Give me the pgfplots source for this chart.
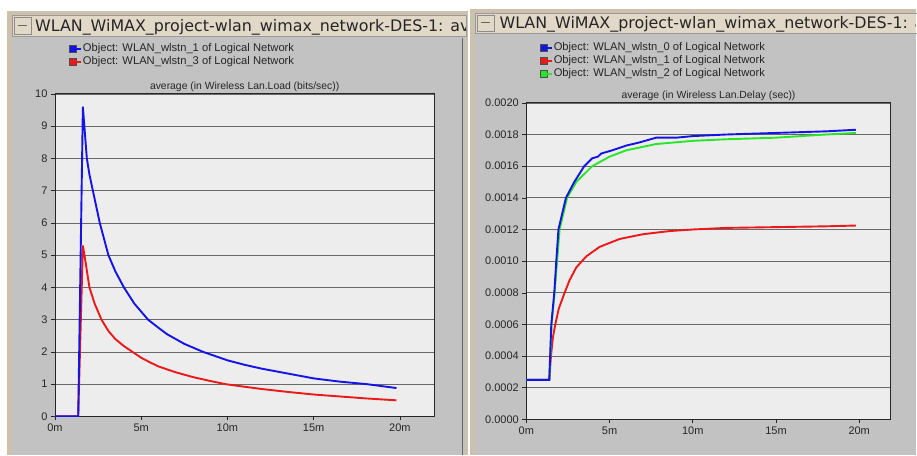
\documentclass[border=0pt]{standalone}
\usepackage{fontspec}
\setmainfont{Liberation Sans}
\newfontfamily\barfont{DejaVu Sans}
\usepackage{pgfplots}
\pgfplotsset{compat=1.18}

\definecolor{winbg}{RGB}{194,194,194}
\definecolor{plotbg}{RGB}{237,237,237}
\definecolor{barbg}{RGB}{226,216,200}
\definecolor{framebeige}{RGB}{205,192,172}
\definecolor{gridc}{RGB}{105,105,105}
\definecolor{oblue}{RGB}{20,20,230}
\definecolor{ored}{RGB}{235,25,25}
\definecolor{ogreen}{RGB}{40,230,40}

\pgfplotsset{
  opnet/.style={
    scale only axis,
    axis background/.style={fill=plotbg},
    axis line style={black!85, line width=0.8pt},
    ymajorgrids,
    major grid style={gridc, line width=0.7pt},
    xtick={0,5,10,15,20},
    xticklabels={0m,5m,10m,15m,20m},
    tick align=outside,
    xtick pos=bottom, ytick pos=left,
    major tick length=4pt,
    tick style={black!85, line width=0.6pt},
    every tick label/.append style={font=\fontsize{11}{13}\selectfont, text=black!85},
    /pgf/number format/assume math mode=true,
    title style={font=\fontsize{10.4}{12}\selectfont, at={(0.5,1)}, anchor=south, yshift=-7pt, text=black!85},
    legend cell align=left,
    legend style={draw=none, fill=none, inner sep=0pt, row sep=0pt,
      font=\fontsize{11.2}{13}\selectfont,
      nodes={text height=8pt, text depth=2.5pt, inner sep=1.25pt, text=black!85}},
    legend image code/.code={\draw[#1, fill, draw=black!70, line width=0.5pt] (0pt,-3.5pt) rectangle (7pt,3.5pt);
      \path (0pt,0pt) -- (11pt,0pt);},
    every axis plot/.append style={line width=1.9pt},
  }
}

\begin{document}
\begin{tikzpicture}[x=1pt,y=1pt]
\fill[white] (0,0) rectangle (917,456);
\coordinate (LO) at (55,39);
\coordinate (RO) at (527,36);

% left window
\fill[framebeige] (7,0) rectangle (469,445);
\fill[winbg] (12,0) rectangle (466,420);
\draw[black!60, line width=1pt] (463,0) -- (463,418);
\fill[barbg] (12,420) rectangle (467,441);
\draw[black!40] (12,420) rectangle (467,441);
\draw[black!45] (14,422) rectangle (31,439);
\draw[black!60, line width=1pt] (18,430.5) -- (27,430.5);
\begin{scope}
\clip (32,420) rectangle (466,442);
\node[anchor=base west, inner sep=0pt, text=black!85] at (35,424) {\barfont\fontsize{15.9}{16}\selectfont WLAN\_WiMAX\_project-wlan\_wimax\_network-DES-1: av};
\end{scope}

% right window
\fill[framebeige] (471,0) rectangle (917,447);
\fill[winbg] (476,0) rectangle (917,423);
\fill[barbg] (476,423) rectangle (917,443);
\draw[black!40] (476,423) rectangle (918,443);
\draw[black!45] (478,425) rectangle (495,441);
\draw[black!60, line width=1pt] (482,433) -- (491,433);
\begin{scope}
\clip (496,422) rectangle (917,444);
\node[anchor=base west, inner sep=0pt, text=black!85] at (500,427) {\barfont\fontsize{15.9}{16}\selectfont WLAN\_WiMAX\_project-wlan\_wimax\_network-DES-1: av};
\end{scope}

% left chart: load
\begin{axis}[opnet,
  at={(LO)}, anchor=south west,
  width=380pt, height=323pt,
  xmin=0, xmax=22, ymin=0, ymax=10,
  ytick={0,1,...,10},
  title={average (in Wireless Lan.Load (bits/sec))},
  legend style={at={(0.036,1.16)}, anchor=north west},
]
\addplot[ored, forget plot] coordinates {
(0,0) (1.35,0) (1.62,5.3) (1.8,4.7) (2.0,4.0) (2.3,3.5) (2.7,3.0) (3.1,2.65)
(3.5,2.4) (4.0,2.18) (4.5,2.0) (5,1.82) (5.5,1.68) (6,1.55) (7,1.37) (8,1.22)
(9,1.1) (9.9,1.0) (11,0.92) (12,0.85) (13.5,0.76) (15,0.68) (16.5,0.62)
(18,0.56) (19.8,0.5)};
\addplot[oblue] coordinates {
(0,0) (1.35,0) (1.62,9.6) (1.85,8.0) (2.0,7.5) (2.2,7.0) (2.6,6.0) (3.1,5.0)
(3.5,4.5) (4.0,4.0) (4.6,3.5) (5.4,3.0) (6.0,2.75) (6.5,2.55) (7.5,2.25)
(8.6,2.0) (10,1.74) (11,1.6) (12,1.48) (13.5,1.33) (15,1.18) (16.5,1.08)
(18.1,1.0) (19.8,0.88)};
\addlegendentry{Object: WLAN\_wlstn\_1 of Logical Network}
\addlegendimage{ored}
\addlegendentry{Object: WLAN\_wlstn\_3 of Logical Network}
\end{axis}

% right chart: delay
\begin{axis}[opnet,
  at={(RO)}, anchor=south west,
  width=365pt, height=317pt,
  xmin=0, xmax=21.9, ymin=0, ymax=0.002,
  ytick={0,0.0002,0.0004,0.0006,0.0008,0.0010,0.0012,0.0014,0.0016,0.0018,0.0020},
  scaled y ticks=false,
  yticklabel style={/pgf/number format/.cd, fixed, fixed zerofill, precision=4},
  title={average (in Wireless Lan.Delay (sec))},
  legend style={at={(0.036,1.195)}, anchor=north west},
]
\addplot[ored, forget plot] coordinates {
(0,0.00025) (1.38,0.00025) (1.48,0.0004) (1.6,0.00052) (1.74,0.0006) (1.95,0.0007)
(2.3,0.0008) (2.6,0.00088) (3.0,0.00096) (3.6,0.00103) (4.4,0.00109) (5.6,0.00114)
(7,0.00117) (8.6,0.00119) (10,0.0012) (12,0.00121) (15,0.001215) (18,0.00122)
(19.8,0.001225)};
\addplot[ogreen, forget plot] coordinates {
(0,0.00025) (1.38,0.00025) (1.52,0.0006) (1.7,0.0008) (1.85,0.0010) (2.0,0.0012)
(2.45,0.0014) (3.0,0.0015) (3.96,0.0016) (5,0.00166) (6.0,0.0017) (7.8,0.00174)
(10,0.00176) (12,0.00177) (15,0.00178) (18,0.0018) (19.8,0.00181)};
\addplot[oblue] coordinates {
(0,0.00025) (1.38,0.00025) (1.5,0.0006) (1.68,0.0008) (1.8,0.0010) (1.93,0.0012)
(2.38,0.0014) (2.88,0.0015) (3.48,0.0016) (3.96,0.00165) (4.3,0.00166) (4.5,0.00168)
(5.16,0.0017) (6.0,0.00173) (6.8,0.00175) (7.8,0.00178) (9,0.00178) (10,0.00179)
(12,0.0018) (15,0.00181) (18,0.00182) (19.8,0.00183)};
\addlegendentry{Object: WLAN\_wlstn\_0 of Logical Network}
\addlegendimage{ored}
\addlegendentry{Object: WLAN\_wlstn\_1 of Logical Network}
\addlegendimage{ogreen}
\addlegendentry{Object: WLAN\_wlstn\_2 of Logical Network}
\end{axis}
\end{tikzpicture}
\end{document}
